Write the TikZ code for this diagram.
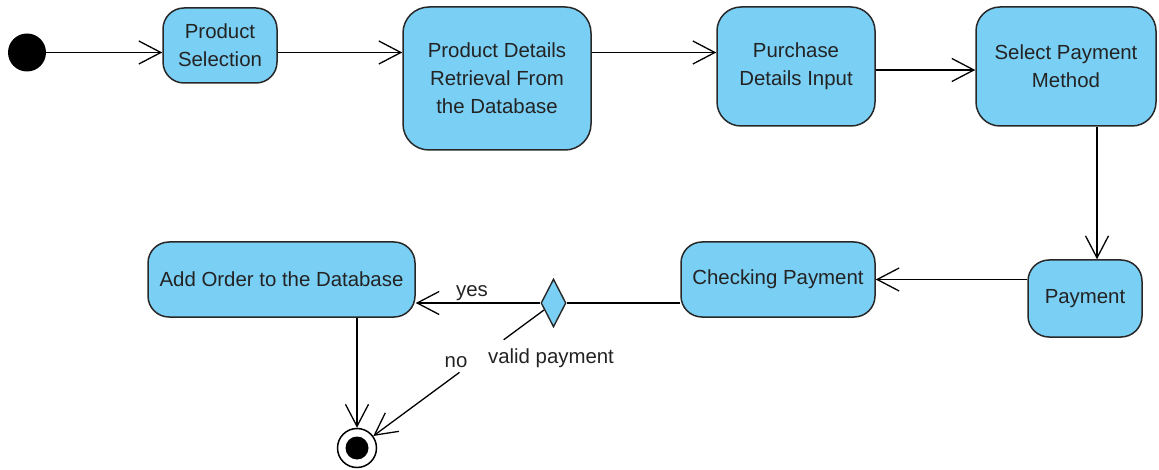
\documentclass[tikz,border=0pt]{standalone}
\usepackage{fontspec}
\setmainfont{Liberation Sans}
\usetikzlibrary{arrows.meta,shapes.geometric}

\definecolor{actfill}{RGB}{122,207,245}
\definecolor{actline}{RGB}{40,40,40}
\definecolor{acttext}{RGB}{35,35,35}

\tikzset{
  txt/.style={font=\fontsize{20.4pt}{28pt}\selectfont, text=acttext},
  action/.style={txt, draw=actline, line width=1.5pt, fill=actfill,
    rounded corners=21pt, align=center, inner sep=0pt},
  flow/.style={draw=black, line width=1.3pt,
    -{Straight Barb[length=22pt,width=23pt,line width=1.3pt]}},
  plain/.style={draw=black, line width=1.3pt},
  lbl/.style={txt, inner sep=0pt, anchor=base},
}

\begin{document}
\begin{tikzpicture}[x=1pt, y=-1pt]
  \useasboundingbox (0,0) rectangle (1159,470);

  % start node
  \node[circle, fill=black, minimum size=38pt, inner sep=0pt] (init) at (27,52.5) {};

  % activities, top row
  \node[action, minimum width=114pt, minimum height=75pt] (ps) at (220,45.5) {Product\\Selection};
  \node[action, minimum width=188pt, minimum height=143pt, rounded corners=26pt] (pd) at (497,78.5)
    {Product Details\\Retrieval From\\the Database};
  \node[action, minimum width=158pt, minimum height=119pt, rounded corners=24pt] (pdi) at (796,66.5)
    {Purchase\\Details Input};
  \node[action, minimum width=180pt, minimum height=119pt, rounded corners=24pt] (spm) at (1066,66.5)
    {Select Payment\\Method};

  % activities, bottom row
  \node[action, minimum width=114pt, minimum height=77pt] (pay) at (1085,298.5) {Payment};
  \node[action, minimum width=194pt, minimum height=75pt] (cp) at (778,279.5) {Checking Payment};
  \node[action, minimum width=267pt, minimum height=75pt] (ao) at (281.5,279.5) {Add Order to the Database};

  % decision
  \node[diamond, draw=actline, line width=1.4pt, fill=actfill, inner sep=0pt,
        minimum width=25pt, minimum height=48pt] (dec) at (553.5,303) {};

  % final node
  \node[circle, draw=black, line width=1.5pt, fill=white, minimum size=39pt, inner sep=0pt] (fin) at (357,448) {};
  \node[circle, fill=black, minimum size=23pt, inner sep=0pt] (finin) at (fin) {};

  % control flows
  \draw[flow] (init) -- (init -| ps.west);
  \draw[flow] (ps.east |- init) -- (pd.west |- init);
  \draw[flow] (pd.east |- init) -- (pdi.west |- init);
  \draw[flow] ([yshift=-3.5pt]pdi.east) -- ([yshift=-3.5pt]spm.west);
  \draw[flow] ([xshift=31pt]spm.south) -- ([xshift=31pt]spm.south |- pay.north);
  \draw[flow] (pay.west |- cp.east) -- (cp.east);
  \draw[plain] (cp.west |- dec.east) -- (dec.east);
  \draw[flow] (dec.west) -- (ao.east |- dec.west);
  \draw[flow] (fin |- ao.south) -- (fin);

  % "no" branch, broken where its labels sit
  \draw[plain, shorten >=162pt] (dec) -- (fin);
  \draw[flow, shorten <=105pt] (dec) -- (fin);

  % guard labels
  \node[lbl] (yes) at (472,297) {yes};
  \node[lbl] (no) at (456,367) {no};
  \node[lbl] (guard) at (551,363) {valid payment};
\end{tikzpicture}
\end{document}
